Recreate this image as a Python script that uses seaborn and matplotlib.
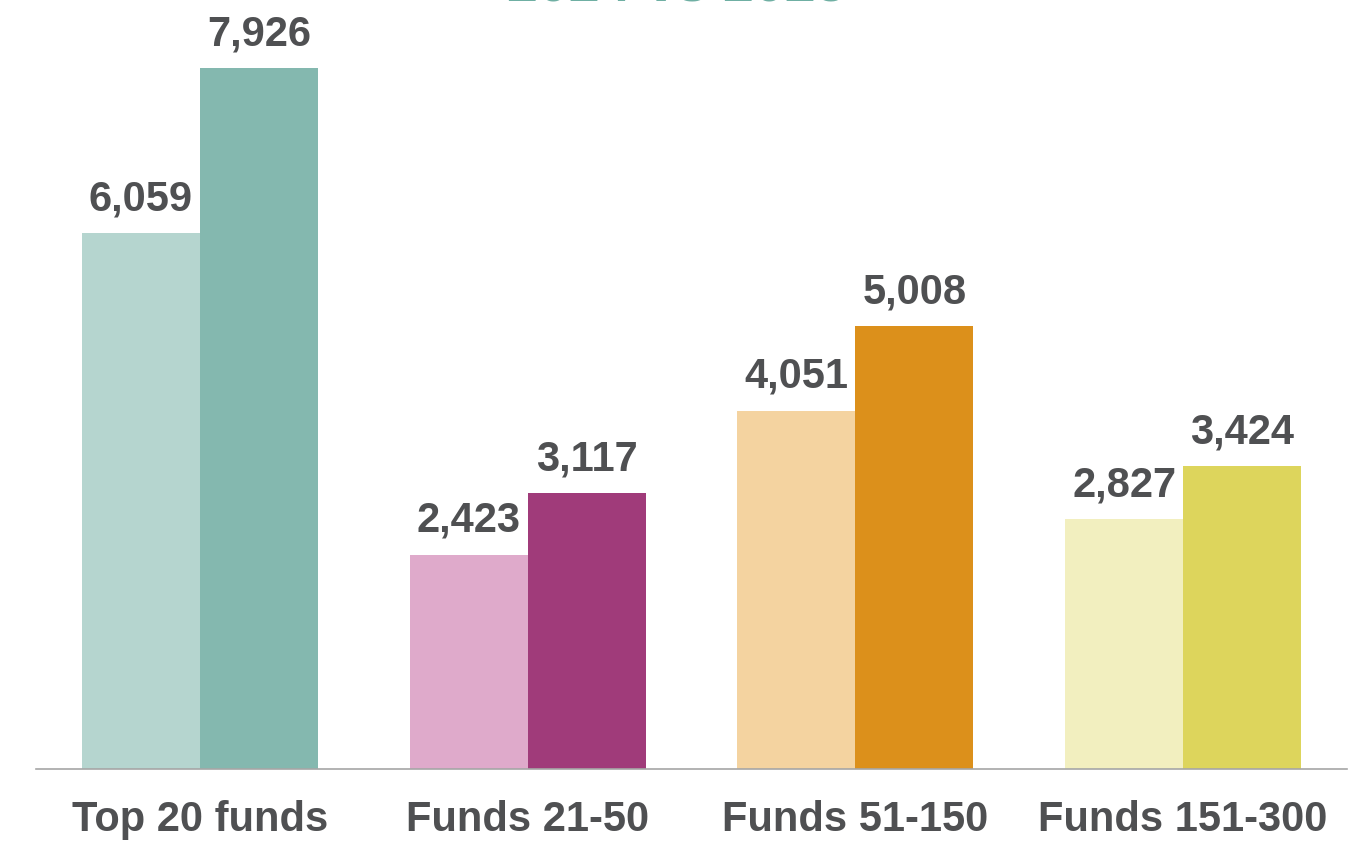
import matplotlib
matplotlib.use("Agg")
import matplotlib.pyplot as plt
import pandas as pd
import seaborn as sns

categories = ["Top 20 funds", "Funds 21-50", "Funds 51-150", "Funds 151-300"]
years = ["2024", "2025"]
values_2024 = [6059, 2423, 4051, 2827]
values_2025 = [7926, 3117, 5008, 3424]
light_colors = ["#B5D5CF", "#DFAACB", "#F4D3A0", "#F2EFBF"]
dark_colors = ["#84B8AF", "#A03B7A", "#DC901B", "#DDD55C"]

df = pd.DataFrame({
    "category": categories * 2,
    "year": [years[0]] * 4 + [years[1]] * 4,
    "value": values_2024 + values_2025,
})

sns.set_theme(style="white")
plt.rcParams["font.family"] = ["Liberation Sans", "DejaVu Sans"]

fig = plt.figure(figsize=(13.68, 8.42), dpi=100)
ax = fig.add_axes([36 / 1368, 73 / 842, 1311 / 1368, 769 / 842])

sns.barplot(data=df, x="category", y="value", hue="year", order=categories,
            hue_order=years, width=0.72, saturation=1, legend=False, ax=ax)

text_color = "#4F5052"
for container, cols in zip(ax.containers, [light_colors, dark_colors]):
    for bar, col in zip(container, cols):
        bar.set_facecolor(col)
        bar.set_edgecolor("none")
    ax.bar_label(container, labels=[f"{v:,.0f}" for v in container.datavalues],
                 padding=10, fontsize=30, fontweight="bold", color=text_color)

ax.set_xlim(-0.5, 3.5)
ax.set_ylim(0, 8695)
ax.set_xlabel("")
ax.set_ylabel("")
ax.set_yticks([])
ax.tick_params(axis="x", length=0, pad=22, labelsize=30, labelcolor=text_color)
for lab in ax.get_xticklabels():
    lab.set_fontweight("bold")
sns.despine(ax=ax, left=True, top=True, right=True)
ax.spines["bottom"].set_color("#A6A6A6")
ax.spines["bottom"].set_linewidth(1.2)

fig.text(0.495, 1 - 1 / 842, "2024 vs 2025", ha="center", va="baseline",
         fontsize=40, fontweight="bold", color="#6FAFA3")

fig.savefig("out.png", dpi=100)
